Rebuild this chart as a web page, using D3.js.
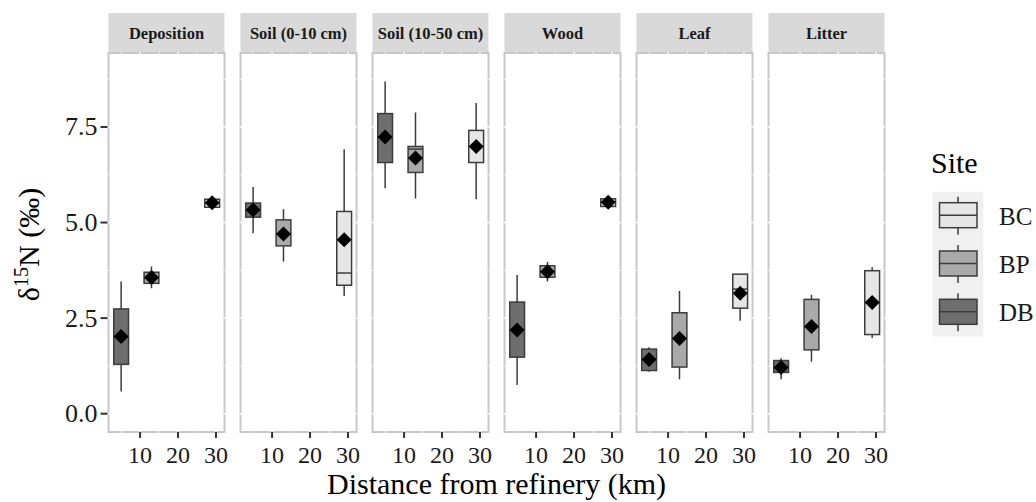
<!DOCTYPE html>
<html>
<head>
<meta charset="utf-8">
<script src="https://cdn.jsdelivr.net/npm/d3@7"></script>
<style>
  html, body { margin: 0; padding: 0; background: #fff; }
  svg { display: block; }
  text { font-family: "Liberation Serif", "Times New Roman", serif; }
</style>
</head>
<body>
<svg id="chart" width="1036" height="502"></svg>
<script>
// ---------------- data ----------------
const panels = ["Deposition", "Soil (0-10 cm)", "Soil (10-50 cm)", "Wood", "Leaf", "Litter"];
const sites = ["DB", "BP", "BC"];
const distances = [5, 13, 29];            // km, one per site
const legendOrder = ["BC", "BP", "DB"];
const yTicks = [0, 2.5, 5, 7.5];
const yTickLabels = ["0.0", "2.5", "5.0", "7.5"];
const xTicks = [10, 20, 30];

// per panel: [DB, BP, BC]
const whiskerLow = [
  [0.58, 3.28, 5.37],
  [4.72, 3.98, 3.08],
  [5.90, 5.63, 5.61],
  [0.75, 3.46, 5.40],
  [1.10, 0.90, 2.43],
  [0.90, 1.36, 1.98]
];
const q1 = [
  [1.29, 3.41, 5.40],
  [5.14, 4.39, 3.36],
  [6.57, 6.31, 6.57],
  [1.48, 3.57, 5.42],
  [1.13, 1.22, 2.76],
  [1.08, 1.67, 2.07]
];
const median = [
  [2.00, 3.55, 5.52],
  [5.33, 4.70, 3.68],
  [7.24, 6.92, 6.99],
  [2.19, 3.71, 5.53],
  [1.42, 1.97, 3.26],
  [1.21, 2.28, 2.91]
];
const q3 = [
  [2.74, 3.70, 5.61],
  [5.51, 5.07, 5.29],
  [7.85, 6.99, 7.41],
  [2.92, 3.87, 5.62],
  [1.69, 2.64, 3.65],
  [1.39, 2.99, 3.74]
];
const whiskerHigh = [
  [3.46, 3.85, 5.65],
  [5.93, 5.35, 6.92],
  [8.69, 7.88, 8.13],
  [3.63, 3.97, 5.64],
  [1.74, 3.21, 3.65],
  [1.45, 3.11, 3.83]
];
const means = [
  [2.02, 3.56, 5.52],
  [5.33, 4.70, 4.55],
  [7.24, 6.69, 6.99],
  [2.19, 3.71, 5.53],
  [1.42, 1.97, 3.15],
  [1.21, 2.28, 2.91]
];

// ---------------- styling / layout ----------------
const fills = { DB: "#6e6e6e", BP: "#a9a9a9", BC: "#e6e6e6" };
const outline = "#3c3c3c";
const panelLeft0 = 108.5, panelW = 116, panelStep = 132;
const stripTop = 13, stripH = 40;
const plotTop = 53, plotBottom = 432;
const boxHalf = 1.95; // km

const svg = d3.select("#chart");

const x = d3.scaleLinear().domain([1.67, 32.25]).range([0, panelW]);
const y = d3.scaleLinear().domain([-0.479, 9.435]).range([plotBottom, plotTop]);

const yMinor = [1.25, 3.75, 6.25, 8.75];
const xMinor = [5, 15, 25];

panels.forEach((name, pi) => {
  const g = svg.append("g").attr("transform", `translate(${panelLeft0 + pi * panelStep},0)`);

  // strip
  g.append("rect").attr("x", 0).attr("y", stripTop).attr("width", panelW).attr("height", stripH)
    .attr("fill", "#d9d9d9");
  g.append("text").attr("x", panelW / 2).attr("y", stripTop + stripH / 2 + 6)
    .attr("text-anchor", "middle").attr("font-weight", "bold").attr("font-size", 16.5)
    .attr("fill", "#1a1a1a").text(name);

  // panel background + border
  g.append("rect").attr("x", 0).attr("y", plotTop).attr("width", panelW).attr("height", plotBottom - plotTop)
    .attr("fill", "#fff").attr("stroke", "#c8c8c8").attr("stroke-width", 2);

  // white grid lines (visible only across border)
  yMinor.forEach(v => g.append("line").attr("x1", -1).attr("x2", panelW + 1)
    .attr("y1", y(v)).attr("y2", y(v)).attr("stroke", "#fff").attr("stroke-width", 0.8));
  yTicks.forEach(v => g.append("line").attr("x1", -1).attr("x2", panelW + 1)
    .attr("y1", y(v)).attr("y2", y(v)).attr("stroke", "#fff").attr("stroke-width", 1.4));
  xMinor.forEach(v => g.append("line").attr("y1", plotTop - 1).attr("y2", plotBottom + 1)
    .attr("x1", x(v)).attr("x2", x(v)).attr("stroke", "#fff").attr("stroke-width", 0.8));
  xTicks.forEach(v => g.append("line").attr("y1", plotTop - 1).attr("y2", plotBottom + 1)
    .attr("x1", x(v)).attr("x2", x(v)).attr("stroke", "#fff").attr("stroke-width", 1.4));

  // boxes
  sites.forEach((s, si) => {
    const cx = x(distances[si]);
    const xl = x(distances[si] - boxHalf), xr = x(distances[si] + boxHalf);
    // whiskers
    g.append("line").attr("x1", cx).attr("x2", cx)
      .attr("y1", y(whiskerHigh[pi][si])).attr("y2", y(q3[pi][si]))
      .attr("stroke", outline).attr("stroke-width", 1.5);
    g.append("line").attr("x1", cx).attr("x2", cx)
      .attr("y1", y(q1[pi][si])).attr("y2", y(whiskerLow[pi][si]))
      .attr("stroke", outline).attr("stroke-width", 1.5);
    // box
    g.append("rect").attr("x", xl).attr("width", xr - xl)
      .attr("y", y(q3[pi][si])).attr("height", y(q1[pi][si]) - y(q3[pi][si]))
      .attr("fill", fills[s]).attr("stroke", outline).attr("stroke-width", 1.5);
    // median
    g.append("line").attr("x1", xl).attr("x2", xr)
      .attr("y1", y(median[pi][si])).attr("y2", y(median[pi][si]))
      .attr("stroke", outline).attr("stroke-width", 1.5);
    // mean diamond
    const my = y(means[pi][si]), r = 7.5;
    g.append("path")
      .attr("d", `M${cx},${my - r}L${cx + r},${my}L${cx},${my + r}L${cx - r},${my}Z`)
      .attr("fill", "#000");
  });

  // x axis
  const xa = g.append("g").attr("transform", `translate(0,${plotBottom})`);
  xTicks.forEach(v => {
    xa.append("line").attr("x1", x(v)).attr("x2", x(v)).attr("y1", 0).attr("y2", 6)
      .attr("stroke", "#333").attr("stroke-width", 2);
    xa.append("text").attr("x", x(v)).attr("y", 31).attr("text-anchor", "middle")
      .attr("font-size", 24).attr("fill", "#1a1a1a").text(v);
  });

  // y axis on first panel
  if (pi === 0) {
    yTicks.forEach((v, i) => {
      g.append("line").attr("x1", -8).attr("x2", -1).attr("y1", y(v)).attr("y2", y(v))
        .attr("stroke", "#333").attr("stroke-width", 2);
      g.append("text").attr("x", -11).attr("y", y(v) + 8.5).attr("text-anchor", "end")
        .attr("font-size", 26).attr("fill", "#1a1a1a").text(yTickLabels[i]);
    });
  }
});

// axis titles
svg.append("text").attr("x", (panelLeft0 + panelLeft0 + 5 * panelStep + panelW) / 2).attr("y", 494)
  .attr("text-anchor", "middle").attr("font-size", 30).attr("fill", "#000")
  .text("Distance from refinery (km)");

const yt = svg.append("text").attr("transform", `translate(39,${(plotTop + plotBottom) / 2 + 2}) rotate(-90)`)
  .attr("text-anchor", "middle").attr("font-size", 30).attr("fill", "#000");
yt.append("tspan").text("δ");
yt.append("tspan").attr("font-size", 20).attr("dy", -11).text("15");
yt.append("tspan").attr("dy", 11).text("N (‰)");

// legend
const lg = svg.append("g");
lg.append("text").attr("x", 931).attr("y", 173).attr("font-size", 30).attr("fill", "#000").text("Site");
lg.append("rect").attr("x", 932.7).attr("y", 191.7).attr("width", 50.6).attr("height", 145).attr("fill", "#f0f0f0");
legendOrder.forEach((s, i) => {
  const top = 191.7 + i * 48.3, cxl = 958;
  lg.append("line").attr("x1", cxl).attr("x2", cxl).attr("y1", top + 5).attr("y2", top + 43)
    .attr("stroke", outline).attr("stroke-width", 1.5);
  lg.append("rect").attr("x", 939.5).attr("y", top + 11).attr("width", 37.5).attr("height", 25)
    .attr("fill", fills[s]).attr("stroke", outline).attr("stroke-width", 1.5);
  lg.append("line").attr("x1", 939.5).attr("x2", 977).attr("y1", top + 23.5).attr("y2", top + 23.5)
    .attr("stroke", outline).attr("stroke-width", 1.5);
  lg.append("text").attr("x", 999).attr("y", top + 33).attr("font-size", 25).attr("fill", "#1a1a1a").text(s);
});
</script>
</body>
</html>
